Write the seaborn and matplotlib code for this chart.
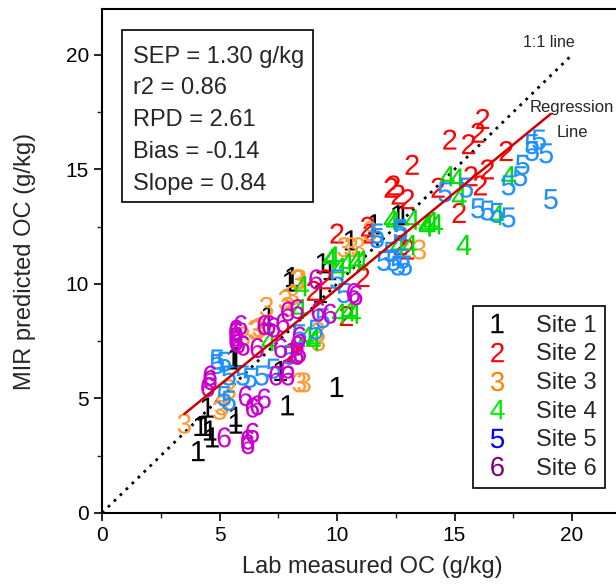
import numpy as np
import pandas as pd
import matplotlib
matplotlib.use("Agg")
import matplotlib.pyplot as plt
from matplotlib.lines import Line2D
from matplotlib.patches import Rectangle
from matplotlib.ticker import MultipleLocator
import seaborn as sns

# ---------------- data ----------------
site_names = ["Site 1", "Site 2", "Site 3", "Site 4", "Site 5", "Site 6"]
site_digits = ["1", "2", "3", "4", "5", "6"]

site1_lab = [4.1, 4.2, 4.4, 4.6, 4.7, 4.5, 5.7, 5.7, 7.9, 10.0, 5.7, 8.1, 9.4, 10.6, 12.6, 12.8, 11.6, 9.7, 9.3, 7.1, 5.6, 7.6, 8.0]
site1_pred = [2.7, 3.8, 3.8, 3.6, 3.3, 4.6, 4.2, 3.9, 4.7, 5.5, 6.8, 10.3, 10.9, 11.9, 13.0, 13.0, 12.6, 10.6, 9.6, 8.6, 6.7, 6.2, 10.1]

site2_lab = [16.2, 14.8, 15.6, 16.0, 17.2, 13.2, 12.4, 12.6, 13.0, 14.3, 15.7, 16.1, 16.4, 15.2, 10.0, 11.3, 11.4, 13.0, 12.7, 11.1, 9.0, 10.4, 8.1, 12.3, 9.5, 8.2]
site2_pred = [17.2, 16.3, 16.1, 16.6, 15.8, 15.2, 14.3, 13.9, 13.7, 14.2, 14.7, 14.3, 15.0, 13.1, 12.2, 12.5, 12.2, 11.5, 11.7, 10.3, 9.7, 8.6, 7.0, 14.2, 10.2, 7.0]

site3_lab = [3.5, 5.0, 5.1, 8.4, 8.6, 6.7, 6.5, 9.2, 10.3, 10.6, 10.9, 13.5, 8.4, 8.3, 7.8, 7.9, 8.1, 9.2, 6.6, 11.4, 7.0, 6.0, 5.4]
site3_pred = [3.9, 4.5, 4.7, 5.7, 5.7, 8.1, 8.0, 7.5, 11.6, 11.6, 11.6, 11.5, 10.2, 10.2, 9.3, 9.0, 9.5, 7.9, 8.0, 12.3, 9.0, 7.7, 5.4]

site4_lab = [15.1, 14.7, 15.2, 17.3, 16.8, 15.4, 13.8, 14.2, 13.2, 12.3, 13.1, 12.4, 13.8, 12.6, 9.8, 10.4, 10.8, 11.0, 10.1, 8.5, 10.5, 10.7, 10.1, 8.4, 9.0, 7.1, 9.0, 8.7, 9.7, 14.0]
site4_pred = [14.6, 14.7, 13.8, 14.7, 13.0, 11.7, 12.5, 12.6, 12.8, 12.8, 11.7, 12.7, 12.6, 11.7, 11.2, 10.9, 11.0, 11.0, 10.7, 9.9, 8.8, 8.7, 8.7, 8.9, 7.6, 7.5, 7.5, 7.7, 11.1, 12.7]

site5_lab = [18.3, 18.6, 18.3, 18.9, 17.9, 17.8, 17.3, 19.1, 16.0, 16.4, 16.8, 17.3, 14.6, 15.5, 12.7, 11.7, 12.7, 12.4, 12.6, 12.9, 12.0, 10.0, 10.3, 9.4, 4.9, 5.2, 5.4, 6.0, 6.3, 6.8, 5.2, 5.4, 7.3, 8.0, 9.1, 8.4, 12.3, 12.8, 11.7, 4.9]
site5_pred = [16.1, 16.3, 15.8, 15.7, 15.2, 14.7, 14.3, 13.7, 13.3, 13.2, 13.1, 12.9, 14.0, 14.2, 12.3, 12.0, 12.4, 11.0, 10.8, 10.8, 11.0, 10.2, 9.6, 8.5, 6.7, 6.6, 6.0, 6.0, 5.9, 6.0, 5.1, 4.9, 6.3, 6.9, 8.0, 7.8, 11.4, 11.1, 12.2, 6.5]

site6_lab = [5.2, 6.2, 6.4, 6.4, 6.9, 6.1, 4.5, 4.6, 5.7, 5.7, 5.7, 7.7, 7.9, 7.4, 8.4, 6.9, 7.1, 5.9, 5.8, 4.6, 6.6, 6.2, 7.3, 7.6, 8.3, 8.4, 7.9, 6.6, 9.1, 10.7, 10.8, 7.9, 8.3, 5.7, 6.0, 9.2, 9.7, 8.3]
site6_pred = [3.3, 3.2, 3.5, 4.6, 5.0, 5.1, 5.5, 5.8, 8.0, 7.5, 7.7, 8.3, 6.0, 6.0, 7.0, 8.2, 8.2, 8.2, 7.4, 6.0, 4.7, 3.0, 8.1, 7.2, 6.9, 7.7, 6.3, 7.2, 10.2, 9.6, 9.5, 8.8, 8.9, 7.9, 7.3, 8.8, 8.7, 7.3]

stats_lines = ["SEP = 1.30 g/kg", "r2 = 0.86", "RPD = 2.61", "Bias = -0.14", "Slope = 0.84"]

one_to_one = [0, 20]
reg_slope = 0.84
reg_intercept = 1.38
reg_x = [3.5, 19.1]

plot_colors = ["#000000", "#FF0000", "#FF9933", "#00DD00", "#1E90FF", "#CC00CC"]
legend_colors = ["#000000", "#FF0000", "#FF8000", "#00EE00", "#0000FF", "#800080"]

# ---------------- style ----------------
sns.set_style("ticks")
plt.rcParams["font.family"] = ["Liberation Sans", "DejaVu Sans"]
plt.rcParams["mathtext.fontset"] = "custom"
plt.rcParams["mathtext.rm"] = "Liberation Sans"
plt.rcParams["mathtext.it"] = "Liberation Sans"
plt.rcParams["mathtext.bf"] = "Liberation Sans"

labs = [site1_lab, site2_lab, site3_lab, site4_lab, site5_lab, site6_lab]
preds = [site1_pred, site2_pred, site3_pred, site4_pred, site5_pred, site6_pred]
frames = []
for name, lx, py in zip(site_names, labs, preds):
    frames.append(pd.DataFrame({"lab": lx, "pred": py, "site": name}))
df = pd.concat(frames, ignore_index=True)

fig = plt.figure(figsize=(6.16, 5.84), dpi=100)
ax = fig.add_axes([102 / 616, 71 / 584, 517 / 616, 504 / 584])

# 1:1 line
sns.lineplot(x=one_to_one, y=one_to_one, ax=ax, color="black",
             linestyle=(0, (1, 2)), linewidth=2.0)

palette = dict(zip(site_names, plot_colors))
markers = {n: f"${d}$" for n, d in zip(site_names, site_digits)}
sns.scatterplot(data=df, x="lab", y="pred", hue="site", style="site",
                palette=palette, markers=markers, s=210, linewidth=0,
                edgecolor="none", legend=False, ax=ax, zorder=3)

# regression line
reg_y = [reg_intercept + reg_slope * v for v in reg_x]
sns.lineplot(x=reg_x, y=reg_y, ax=ax, color="#CC0000", linewidth=1.8, zorder=4)

ax.set_xlim(0, 22)
ax.set_ylim(0, 22)
ax.xaxis.set_major_locator(MultipleLocator(5))
ax.yaxis.set_major_locator(MultipleLocator(5))
ax.xaxis.set_minor_locator(MultipleLocator(2.5))
ax.yaxis.set_minor_locator(MultipleLocator(2.5))
ax.tick_params(which="major", direction="out", length=6, width=1.2, labelsize=15, colors="black")
ax.tick_params(which="minor", direction="out", length=3.5, width=1.0)
for sp in ax.spines.values():
    sp.set_linewidth(1.5)
    sp.set_color("black")

ax.set_xlabel("Lab measured OC (g/kg)", fontsize=17)
ax.set_ylabel("MIR predicted OC (g/kg)", fontsize=17)
ax.xaxis.set_label_coords((372 - 102) / 517, -0.085)
ax.yaxis.set_label_coords(-0.128, 0.5)

# annotations
ax.text(19.0, 20.2, "1:1 line", fontsize=11.5, ha="center", va="bottom")
ax.text(20.0, 17.7, "Regression", fontsize=12, ha="center", va="center")
ax.text(20.0, 16.6, "Line", fontsize=12, ha="center", va="center")

# stats box
ax.add_patch(Rectangle((20 / 517, (513 - 202) / 504), 191 / 517, 172 / 504,
                       transform=ax.transAxes, fill=False, edgecolor="black",
                       linewidth=1.2, zorder=5))
ys = [57, 88, 120, 152, 184]
for line, yp in zip(stats_lines, ys):
    ax.text(31 / 517, (513 - yp) / 504, line, transform=ax.transAxes,
            fontsize=17, ha="left", va="center", zorder=6)

# legend
handles = [Line2D([], [], marker=f"${d}$", linestyle="none", color=c,
                  markersize=14, markeredgewidth=0)
           for d, c in zip(site_digits, legend_colors)]
leg = ax.legend(handles, site_names, loc="lower right",
                bbox_to_anchor=((605 - 102) / 517, (513 - 488) / 504),
                borderaxespad=0, fontsize=17, frameon=True, fancybox=False,
                edgecolor="black", framealpha=1, handletextpad=1.0,
                labelspacing=0.28, borderpad=0.35, handlelength=1.3)
leg.get_frame().set_linewidth(1.2)

fig.savefig("out.png", dpi=100)
